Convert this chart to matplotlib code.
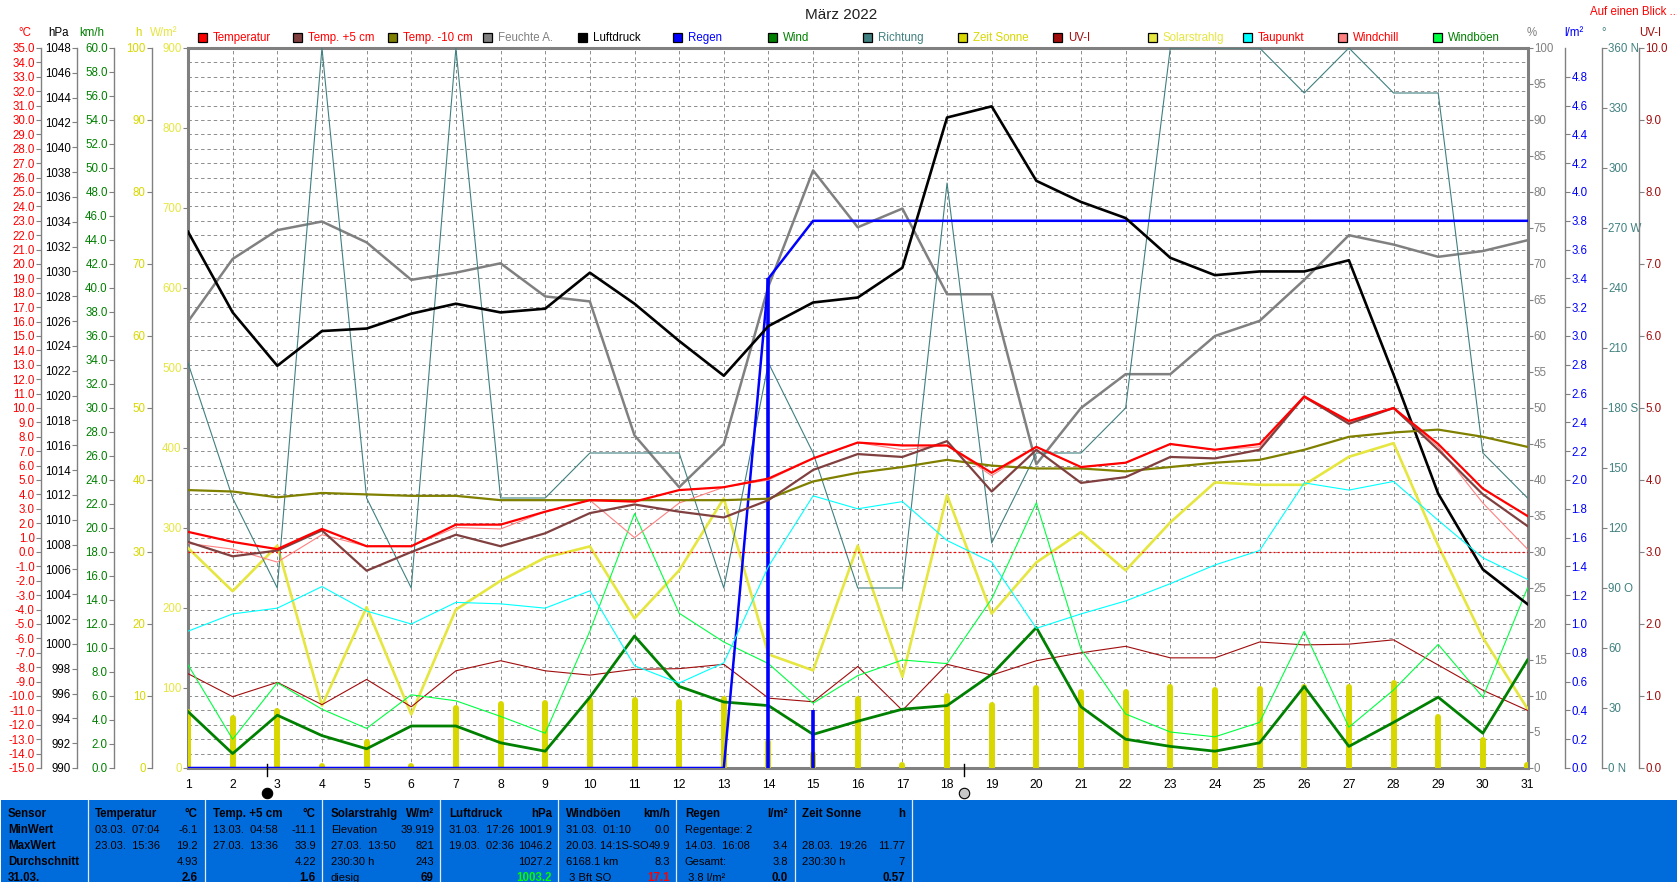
import numpy as np
import matplotlib
matplotlib.use('Agg')
import matplotlib.pyplot as plt
from matplotlib.patches import Rectangle

plt.rcParams['font.family'] = ['Liberation Sans', 'DejaVu Sans']

days = list(range(1, 32))

temperatur = [1.4, .7, .2, 1.6, .4, .4, 1.9, 1.9, 2.8, 3.6, 3.5, 4.3, 4.5, 5.1, 6.5, 7.6, 7.4, 7.4, 5.5, 7.3, 5.9, 6.2, 7.5, 7.1, 7.5, 10.8, 9.1, 10.0, 7.5, 4.4, 2.5]
temp_plus5 = [.7, -.3, .1, 1.5, -1.3, 0, 1.2, .4, 1.3, 2.7, 3.3, 2.8, 2.4, 3.6, 5.7, 6.8, 6.6, 7.7, 4.2, 7.1, 4.8, 5.2, 6.6, 6.5, 7.1, 10.8, 8.9, 10.0, 7.1, 4.0, 1.8]
temp_minus10 = [4.3, 4.2, 3.8, 4.1, 4.0, 3.9, 3.9, 3.6, 3.6, 3.6, 3.6, 3.6, 3.6, 3.7, 4.9, 5.5, 5.9, 6.4, 6.0, 5.8, 5.8, 5.6, 5.9, 6.2, 6.4, 7.1, 8.0, 8.3, 8.5, 8.0, 7.3]
feuchte = [62, 70.7, 74.7, 75.9, 73, 67.8, 68.8, 70.1, 65.5, 64.8, 46.2, 39, 45, 66.9, 83, 75.1, 77.7, 65.8, 65.8, 42.2, 50, 54.7, 54.7, 60, 62.1, 67.8, 74, 72.7, 71, 71.8, 73.3]
luftdruck = [1033.2, 1026.7, 1022.4, 1025.2, 1025.4, 1026.6, 1027.4, 1026.7, 1027, 1029.9, 1027.4, 1024.4, 1021.6, 1025.6, 1027.5, 1027.9, 1030.3, 1042.4, 1043.3, 1037.3, 1035.6, 1034.3, 1031.1, 1029.7, 1030, 1030, 1030.9, 1021.7, 1012.1, 1006, 1003.2]
regen_sum = [0] * 13 + [3.4] + [3.8] * 17
regen_days = [14, 15]
regen_day = [3.4, 0.4]
wind = [4.7, 1.2, 4.4, 2.7, 1.6, 3.5, 3.5, 2.1, 1.4, 5.9, 11, 6.8, 5.5, 5.2, 2.8, 3.9, 4.9, 5.2, 7.8, 11.7, 5.1, 2.4, 1.8, 1.4, 2.1, 6.8, 1.8, 3.8, 5.9, 2.9, 9]
richtung = [202.5, 135, 90, 360, 135, 90, 360, 135, 135, 157.5, 157.5, 157.5, 90, 202.5, 157.5, 90, 90, 292.5, 112.5, 157.5, 157.5, 180, 360, 360, 360, 337.5, 360, 337.5, 337.5, 157.5, 135]
zeit_sonne = [7.8, 6.9, 7.9, .3, 3.6, .3, 8.3, 8.9, 9, 9.4, 9.4, 9.2, 9.6, 3.6, 1.9, 9.6, .4, 10, 8.8, 11.1, 10.6, 10.5, 11.3, 10.8, 11, 11.3, 11.3, 11.77, 7.1, 3.9, .4]
solar = [275, 221, 278, 78, 201, 67, 198, 234, 263, 277, 187, 247, 337, 142, 122, 278, 114, 341, 193, 257, 295, 247, 307, 357, 354, 354, 389, 406, 278, 163, 74]
uv = [1.31, .99, 1.19, .88, 1.23, .85, 1.35, 1.49, 1.35, 1.29, 1.37, 1.38, 1.44, .97, .92, 1.41, .8, 1.44, 1.29, 1.49, 1.6, 1.69, 1.53, 1.53, 1.75, 1.71, 1.72, 1.78, 1.43, 1.08, .8]
taupunkt = [-5.5, -4.3, -3.9, -2.4, -4.1, -5, -3.5, -3.6, -3.9, -2.7, -7.9, -9.1, -7.7, -1, 3.9, 3, 3.5, .8, -.7, -5.3, -4.3, -3.4, -2.2, -.9, .1, 4.8, 4.3, 4.9, 2.2, -.4, -1.9]
windchill = [.6, .2, -.7, 1.2, .4, .4, 1.7, 1.6, 2.8, 3.6, 1, 3.4, 4.5, 5, 6.5, 7.6, 7.1, 7.4, 5.3, 7.3, 5.9, 6.2, 7.5, 7.1, 7.3, 10.7, 9, 10, 7.3, 3.4, .2]
windboeen = [8.6, 2.4, 7.1, 4.9, 3.3, 6.1, 5.6, 4.3, 2.9, 11.4, 21.2, 12.9, 10.5, 8.7, 5.4, 7.7, 9, 8.7, 14.1, 22.1, 9.9, 4.5, 3, 2.6, 3.8, 11.4, 3.4, 6.5, 10.3, 5.9, 15]

legend_names = ['Temperatur', 'Temp. +5 cm', 'Temp. -10 cm', 'Feuchte A.', 'Luftdruck', 'Regen', 'Wind', 'Richtung', 'Zeit Sonne', 'UV-I', 'Solarstrahlg', 'Taupunkt', 'Windchill', 'Windböen']

RED = '#ff0000'
BROWN = '#804040'
OLIVE = '#808000'
GRAY = '#808080'
GREEN = '#008000'
TEAL = '#408080'
YELLOW = '#d8d800'
SOLAR = '#e6e640'
DARKRED = '#a00d0d'
PINK = '#ff8080'
LIME = '#00ff40'
BLUE = '#0000ff'
PANEL = '#006cdc'

legend_box = [RED, BROWN, OLIVE, GRAY, 'black', BLUE, GREEN, TEAL, YELLOW, DARKRED, SOLAR, 'cyan', PINK, LIME]
legend_text = [RED, RED, RED, GRAY, 'black', BLUE, GREEN, TEAL, YELLOW, DARKRED, SOLAR, RED, RED, GREEN]

W, H = 1677, 882
L, R, T, B = 188, 1527.5, 48, 768
FS = 8.3

fig = plt.figure(figsize=(W / 100, H / 100), dpi=100, facecolor='white')
ax = fig.add_axes([L / W, 1 - B / H, (R - L) / W, (B - T) / H])
ax.set_xlim(1, 31)
ax.set_ylim(-15, 35)
ax.set_xticks(days)
ax.set_yticks(np.arange(-15, 36, 1))
ax.tick_params(axis='y', length=0, labelleft=False)
ax.tick_params(axis='x', length=0, pad=8, labelsize=FS + 0.4)
ax.grid(True, color='#8c8c8c', lw=0.7, ls=(0, (3.5, 3)))
for s in ax.spines.values():
    s.set_color(GRAY)
    s.set_linewidth(2.2)


def scale(x_px, side, lim, ticks, color, labels=None):
    tw = ax.twinx()
    tw.set_ylim(*lim)
    tw.set_yticks(ticks)
    if labels is None:
        labels = [str(t) for t in ticks]
    tw.set_yticklabels(labels)
    for s in tw.spines.values():
        s.set_visible(False)
    sp = tw.spines[side]
    sp.set_visible(True)
    sp.set_color(GRAY)
    sp.set_linewidth(1.0)
    sp.set_position(('axes', (x_px - L) / (R - L)))
    tw.yaxis.set_ticks_position(side)
    tw.tick_params(axis='y', direction='out', length=3.5, width=0.8, color=GRAY, pad=1,
                   labelcolor=color, labelsize=FS)
    tw.patch.set_visible(False)
    return tw


def fmt1(vals):
    return ['%.1f' % v for v in vals]


# draw order follows the order these are built
ax_h = scale(152, 'left', (0, 100), list(range(0, 101, 10)), YELLOW)
ax_sol = scale(L, 'left', (0, 900), list(range(0, 901, 100)), SOLAR)
ax_pct = scale(R, 'right', (0, 100), list(range(0, 101, 5)), GRAY)
ax_deg = scale(1602, 'right', (0, 360), list(range(0, 361, 30)), TEAL,
               ['0 N', '30', '60', '90 O', '120', '150', '180 S', '210', '240', '270 W', '300', '330', '360 N'])
ax_uv = scale(1639, 'right', (0, 10), list(range(0, 11)), DARKRED, fmt1(range(0, 11)))
ax_kmh = scale(114, 'left', (0, 60), list(range(0, 61, 2)), GREEN, fmt1(range(0, 61, 2)))
rain_ticks = [i * 0.2 for i in range(25)]
ax_rain = scale(1565, 'right', (0, 5), rain_ticks, BLUE, fmt1(rain_ticks))
ax_hpa = scale(77, 'left', (990, 1048), list(range(990, 1049, 2)), 'black')
temp_ticks = list(range(-15, 36))
ax_temp = scale(41, 'left', (-15, 35), temp_ticks, RED, fmt1(temp_ticks))

for a in [ax_sol, ax_pct]:
    a.spines['left' if a is ax_sol else 'right'].set_visible(False)

ax_h.vlines(days, 0, zeit_sonne, color=YELLOW, lw=4.3, capstyle='round')
ax_sol.plot(days, solar, color=SOLAR, lw=1.9)
ax_pct.plot(days, feuchte, color=GRAY, lw=1.8)
ax_deg.plot(days, richtung, color=TEAL, lw=0.8)
ax_uv.plot(days, uv, color=DARKRED, lw=0.8)
ax_kmh.plot(days, windboeen, color=LIME, lw=0.8)
ax_kmh.plot(days, wind, color=GREEN, lw=2.0)
ax_rain.vlines(regen_days, 0, regen_day, color=BLUE, lw=2.6)
ax_rain.plot(days, regen_sum, color=BLUE, lw=1.8)
ax_temp.axhline(0, color=RED, lw=0.9, ls=(0, (1.5, 2)))
ax_temp.plot(days, taupunkt, color='cyan', lw=0.8)
ax_temp.plot(days, windchill, color=PINK, lw=0.8)
ax_temp.plot(days, temp_minus10, color=OLIVE, lw=1.6)
ax_temp.plot(days, temp_plus5, color=BROWN, lw=1.6)
ax_temp.plot(days, temperatur, color=RED, lw=1.6)
ax_hpa.plot(days, luftdruck, color='black', lw=1.9)

# moon phase marks under the axis
tr = ax.get_xaxis_transform()
for d, fc in [(2.78, 'black'), (18.37, '#c8c8c8')]:
    ax_temp.plot([d, d], [0.0056, -0.011], color='black', lw=1, transform=tr, clip_on=False)
    ax_temp.plot([d], [-0.035], 'o', ms=7.5, mfc=fc, mec='black', mew=0.8, transform=tr, clip_on=False)

# overlay in pixel coordinates for the legend, titles and the info panel
ov = fig.add_axes([0, 0, 1, 1], zorder=20)
ov.set_xlim(0, W)
ov.set_ylim(H, 0)
ov.axis('off')


def txt(x, y, s, color='black', ha='left', weight='normal', size=FS):
    ov.text(x, y, s, color=color, ha=ha, va='center', fontweight=weight, fontsize=size)


txt(841, 15, 'März 2022', color='#202020', ha='center', size=11)
txt(1590, 12, 'Auf einen Blick ...', color=RED)

for x, s, c in [(25, '°C', RED), (59, 'hPa', 'black'), (92, 'km/h', GREEN), (138, 'h', YELLOW), (164, 'W/m²', SOLAR)]:
    txt(x, 33, s, color=c, ha='center')
for x, s, c in [(1532, '%', GRAY), (1574, 'l/m²', BLUE), (1604, '°', TEAL), (1650, 'UV-I', DARKRED)]:
    txt(x, 33, s, color=c, ha='center')

for i, name in enumerate(legend_names):
    x0 = 198 + 95 * i
    ov.add_patch(Rectangle((x0, 33), 9, 9, fc=legend_box[i], ec='black', lw=0.9))
    txt(x0 + 15, 38, name, color=legend_text[i])

# info panel
ov.add_patch(Rectangle((1, 800), W, 82, fc=PANEL, ec='none'))
for x in [88, 205, 322.5, 440.5, 558, 676.5, 795, 912.5]:
    ov.plot([x, x], [800, H], color='#e8e8e8', lw=0.9)

rows = [814, 830, 846, 862, 878]
for y, s in zip(rows, ['Sensor', 'MinWert', 'MaxWert', 'Durchschnitt', '31.03.']):
    txt(8, y, s, weight='bold')

columns = [
    (95, 198, ['Temperatur', '03.03.  07:04', '23.03.  15:36', '', ''], ['°C', '-6.1', '19.2', '4.93', '2.6'], 'black'),
    (213, 316, ['Temp. +5 cm', '13.03.  04:58', '27.03.  13:36', '', ''], ['°C', '-11.1', '33.9', '4.22', '1.6'], 'black'),
    (331, 434, ['Solarstrahlg', 'Elevation', '27.03.  13:50', '230:30 h', 'diesig'], ['W/m²', '39.919', '821', '243', '69'], 'black'),
    (449, 552, ['Luftdruck', '31.03.  17:26', '19.03.  02:36', '', ''], ['hPa', '1001.9', '1046.2', '1027.2', '1003.2'], '#00ff00'),
    (566, 670, ['Windböen', '31.03.  01:10', '20.03. 14:1S-SO', '6168.1 km', ' 3 Bft SO'], ['km/h', '0.0', '49.9', '8.3', '17.1'], RED),
    (685, 788, ['Regen', 'Regentage: 2', '14.03.  16:08', 'Gesamt:', ' 3.8 l/m²'], ['l/m²', '', '3.4', '3.8', '0.0'], 'black'),
    (802, 905, ['Zeit Sonne', '', '28.03.  19:26', '230:30 h', ''], ['h', '', '11.77', '7', '0.57'], 'black'),
]
for xl, xr, left, right, last_col in columns:
    for i, y in enumerate(rows):
        txt(xl, y, left[i], weight='bold' if i == 0 else 'normal', size=8.0 if i else FS)
        if i == 0:
            txt(xr, y, right[i], ha='right', weight='bold')
        elif i == 4:
            txt(xr, y, right[i], ha='right', weight='bold', color=last_col)
        else:
            txt(xr, y, right[i], ha='right', size=8.0)

fig.savefig('out.png', dpi=100)
